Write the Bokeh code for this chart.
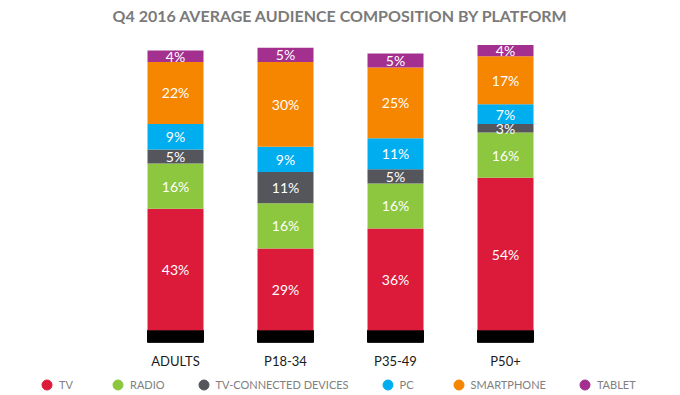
from bokeh.plotting import figure
from bokeh.models import ColumnDataSource, FactorRange, Range1d, Legend, LegendItem
from bokeh.embed import file_html
from bokeh.resources import INLINE
from bokeh.core.properties import value

categories = ["ADULTS", "P18-34", "P35-49", "P50+"]
platforms = ["TV", "RADIO", "TV-CONNECTED DEVICES", "PC", "SMARTPHONE", "TABLET"]
tv = [43, 29, 36, 54]
radio = [16, 16, 16, 16]
tv_connected = [5, 11, 5, 3]
pc = [9, 9, 11, 7]
smartphone = [22, 30, 25, 17]
tablet = [4, 5, 5, 4]
colors = ["#dc1a3a", "#8dc63f", "#54565b", "#00aeef", "#f68500", "#a3308f"]

series = [tv, radio, tv_connected, pc, smartphone, tablet]
keys = ["tv", "radio", "tvc", "pc", "smartphone", "tablet"]

data = {"cat": categories}
for k, s in zip(keys, series):
    data[k] = s
src = ColumnDataSource(data)

FONT = "Lato"
PX = 2.818  # pixels per percentage point

p = figure(
    width=680, height=395,
    x_range=FactorRange(factors=categories, range_padding=1.0909, range_padding_units="absolute"),
    y_range=Range1d(-(395 - 330) / PX, (330 - 28) / PX),
    x_axis_location=None, y_axis_location=None,
    output_backend="svg", toolbar_location=None,
    min_border=0,
)
p.title.text = "Q4 2016 AVERAGE AUDIENCE COMPOSITION BY PLATFORM"
p.title.align = "center"
p.title.text_font = FONT
p.title.text_font_size = "16px"
p.title.text_font_style = "bold"
p.title.text_color = "#7a7a7a"
p.title.standoff = 6
p.outline_line_color = None
p.grid.grid_line_color = None
p.background_fill_color = "white"
p.border_fill_color = "white"

# segment midpoints (used for labels and hidden legend markers)
mids = []
for s_idx, s in enumerate(series):
    m = []
    for i in range(len(categories)):
        below = sum(series[j][i] for j in range(s_idx))
        m.append(below + s[i] / 2)
    mids.append(m)

# legend markers: circles sitting under their own segments (hidden by the bars)
items = []
for name, col, m in zip(platforms, colors, mids):
    r = p.scatter(x=categories, y=m, marker="circle", size=10, color=col)
    items.append(LegendItem(label=name, renderers=[r]))

# base strip
p.vbar(x=categories, bottom=-12 / PX, top=0, width=0.509, color="#000000")

p.vbar_stack(keys, x="cat", width=0.509, color=colors, source=src, line_color=None)

# segment labels
lx, ly, lt = [], [], []
for s, m in zip(series, mids):
    for i, c in enumerate(categories):
        lx.append(c)
        ly.append(m[i])
        lt.append(f"{s[i]}%")
p.text(x=lx, y=ly, text=lt, text_align="center", text_baseline="middle",
       text_color="white", text_font=value(FONT), text_font_size="14px")

# category labels
p.text(x=categories, y=[-31 / PX] * len(categories), text=categories,
       text_align="center", text_baseline="middle", text_color="#1a1a1a",
       text_font=value(FONT), text_font_size="13px")

legend = Legend(items=items, orientation="horizontal", location=(34, -2),
                glyph_width=25, glyph_height=25, label_standoff=-3, spacing=26,
                padding=0, margin=0, border_line_color=None, background_fill_alpha=0,
                label_text_font=FONT, label_text_font_size="11px", label_text_color="#808080")
p.add_layout(legend, "center")

open("out.html", "w").write(file_html(p, INLINE))
